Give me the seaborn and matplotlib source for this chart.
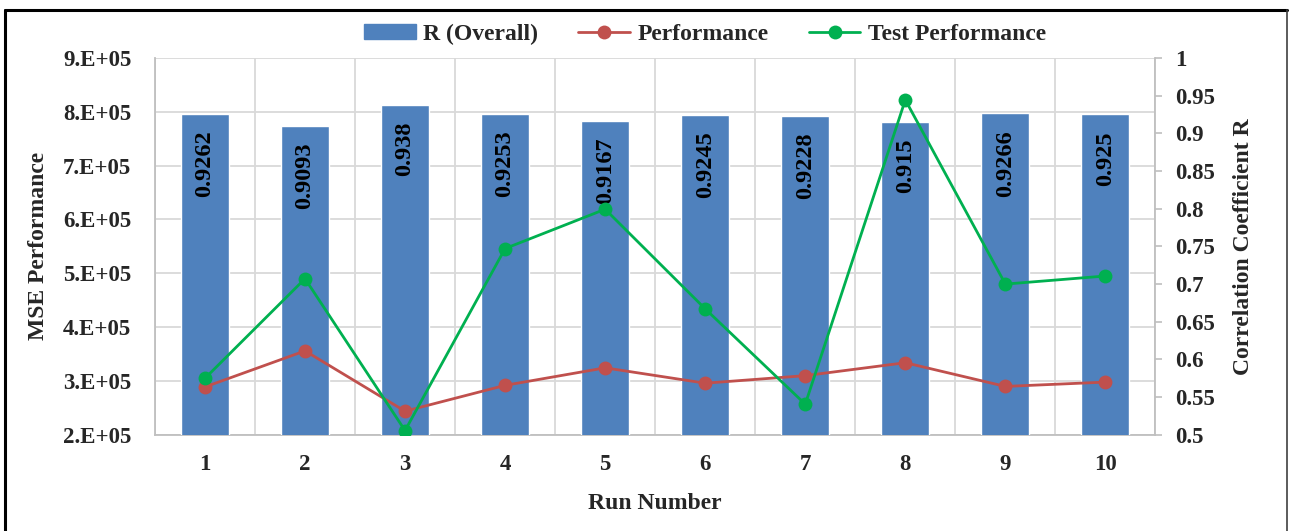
import matplotlib
matplotlib.use("Agg")
import matplotlib.pyplot as plt
import matplotlib.lines as mlines
import matplotlib.patches as mpatches
import numpy as np
import pandas as pd
import seaborn as sns

# Results of ten training runs
runs = ["1", "2", "3", "4", "5", "6", "7", "8", "9", "10"]
r_overall = [0.9262, 0.9093, 0.938, 0.9253, 0.9167, 0.9245, 0.9228, 0.915, 0.9266, 0.925]
performance = [2.89e5, 3.56e5, 2.44e5, 2.92e5, 3.245e5, 2.96e5, 3.10e5, 3.34e5, 2.90e5, 2.98e5]
test_performance = [3.05e5, 4.90e5, 2.08e5, 5.46e5, 6.19e5, 4.34e5, 2.57e5, 8.22e5, 4.80e5, 4.95e5]

mse_ticks = [2e5, 3e5, 4e5, 5e5, 6e5, 7e5, 8e5, 9e5]
mse_tick_labels = ["2.E+05", "3.E+05", "4.E+05", "5.E+05", "6.E+05", "7.E+05", "8.E+05", "9.E+05"]
r_ticks = [0.5, 0.55, 0.6, 0.65, 0.7, 0.75, 0.8, 0.85, 0.9, 0.95, 1.0]
r_tick_labels = ["0.5", "0.55", "0.6", "0.65", "0.7", "0.75", "0.8", "0.85", "0.9", "0.95", "1"]

BAR_COLOR = "#4F81BD"
PERF_COLOR = "#C0504D"
TEST_COLOR = "#00B050"
GRID_COLOR = "#D9D9D9"
TICK_SIZE = 16.5
LABEL_SIZE = 17

sns.set_theme(style="white")
plt.rcParams["font.family"] = ["Liberation Serif", "DejaVu Serif"]
plt.rcParams["font.weight"] = "bold"

df = pd.DataFrame({
    "Run": runs,
    "x": np.arange(len(runs)),
    "R": r_overall,
    "Performance": performance,
    "Test Performance": test_performance,
})

fig = plt.figure(figsize=(12.91, 5.31), dpi=100)
ax_mse = fig.add_axes([0.120, 0.181, 0.775, 0.710])
ax_r = ax_mse.twinx()
ax_line = ax_mse.twinx()

ax_mse.set_zorder(0)
ax_r.set_zorder(1)
ax_line.set_zorder(2)
ax_r.patch.set_visible(False)
ax_line.patch.set_visible(False)

# Bars on the correlation scale (right axis)
sns.barplot(data=df, x="x", y="R", color=BAR_COLOR, width=0.48,
            saturation=1, ax=ax_r, native_scale=True)
ax_r.set_ylim(0.5, 1.0)
ax_r.set_yticks(r_ticks)
ax_r.set_yticklabels(r_tick_labels, fontsize=TICK_SIZE, fontweight="bold")
ax_r.tick_params(axis="y", length=5, width=1.2, color="#BFBFBF", pad=9)
ax_r.set_ylabel("Correlation Coefficient R", fontsize=LABEL_SIZE, fontweight="bold", labelpad=13)
ax_r.set_xlabel("")
ax_r.grid(False)
for side in ["top", "left", "bottom"]:
    ax_r.spines[side].set_visible(False)
ax_r.spines["right"].set_color("#BFBFBF")
ax_r.spines["right"].set_linewidth(1.3)

for xi, val in zip(df["x"], df["R"]):
    ax_r.annotate(f"{val:g}", xy=(xi, val), xytext=(0, -12), textcoords="offset points",
                  ha="center", va="top", rotation=90, fontsize=17.5, fontweight="bold",
                  color="black")

# Lines on the MSE scale
sns.lineplot(data=df, x="x", y="Performance", color=PERF_COLOR, linewidth=2,
             marker="o", markersize=10, markeredgewidth=0, ax=ax_line)
sns.lineplot(data=df, x="x", y="Test Performance", color=TEST_COLOR, linewidth=2,
             marker="o", markersize=10, markeredgewidth=0, ax=ax_line)
ax_line.set_ylim(2e5, 9e5)
ax_line.set_yticks([])
ax_line.set_ylabel("")
ax_line.set_xlabel("")
ax_line.grid(False)
for side in ax_line.spines:
    ax_line.spines[side].set_visible(False)

# Base axes: MSE scale, grid, category ticks and left labels
ax_mse.set_xlim(-0.5, len(runs) - 0.5)
ax_mse.set_ylim(2e5, 9e5)
ax_mse.set_yticks(mse_ticks)
ax_mse.set_yticklabels(mse_tick_labels, fontsize=TICK_SIZE, fontweight="bold")
ax_mse.set_xticks(df["x"])
ax_mse.set_xticklabels(runs, fontsize=TICK_SIZE, fontweight="bold")
ax_mse.set_xticks(np.arange(-0.5, len(runs), 1.0), minor=True)
ax_mse.grid(axis="y", which="major", color=GRID_COLOR, linewidth=1.3)
ax_mse.grid(axis="x", which="minor", color=GRID_COLOR, linewidth=1.3)
ax_mse.grid(axis="x", which="major", visible=False)
ax_mse.tick_params(axis="both", which="both", length=0)
ax_mse.tick_params(axis="y", pad=17)
ax_mse.tick_params(axis="x", pad=14)
ax_mse.set_ylabel("MSE Performance", fontsize=LABEL_SIZE, fontweight="bold", labelpad=10)
ax_mse.set_xlabel("Run Number", fontsize=LABEL_SIZE, fontweight="bold", labelpad=13)
for side in ["top", "right"]:
    ax_mse.spines[side].set_visible(False)
for side in ["left", "bottom"]:
    ax_mse.spines[side].set_color("#BFBFBF")
    ax_mse.spines[side].set_linewidth(1.3)

# Legend across the top
handles = [
    mpatches.Patch(color=BAR_COLOR, label="R (Overall)"),
    mlines.Line2D([], [], color=PERF_COLOR, linewidth=2, marker="o", markersize=10,
                  markeredgewidth=0, label="Performance"),
    mlines.Line2D([], [], color=TEST_COLOR, linewidth=2, marker="o", markersize=10,
                  markeredgewidth=0, label="Test Performance"),
]
leg = fig.legend(handles=handles, loc="center", bbox_to_anchor=(0.546, 0.935), ncol=3,
                 frameon=False, prop={"size": LABEL_SIZE, "weight": "bold"},
                 handlelength=2.2, handleheight=0.6, columnspacing=1.7, handletextpad=0.3)

# Outer frame
W, H = 1291, 531
for (x0, y0, x1, y1, lw, c) in [(5, 10, 5, 600, 2.2, "black"),
                                 (5, 10, 1287, 10, 2.2, "black"),
                                 (1287, 10, 1287, 600, 1.2, "#404040")]:
    fig.add_artist(mlines.Line2D([x0 / W, x1 / W], [1 - y0 / H, 1 - y1 / H],
                                 transform=fig.transFigure, color=c, linewidth=lw))

fig.savefig("out.png", dpi=100)
